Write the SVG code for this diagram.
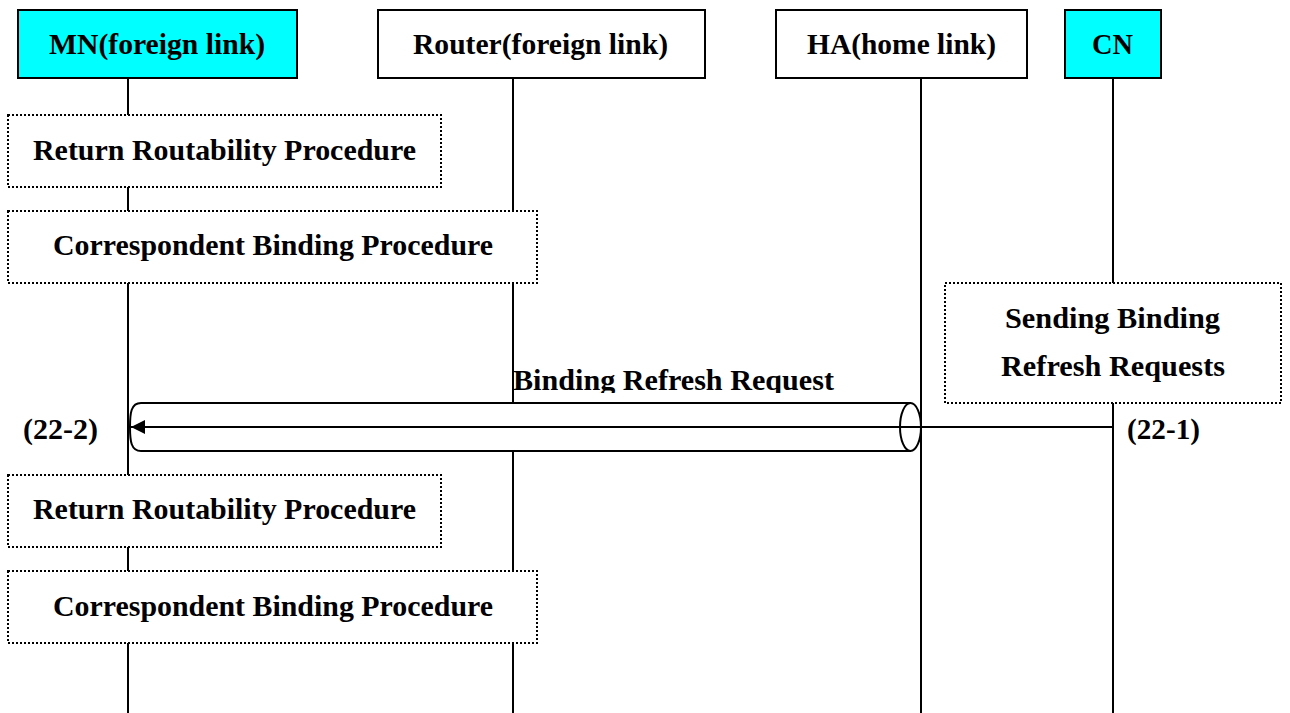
<svg xmlns="http://www.w3.org/2000/svg" width="1290" height="713" viewBox="0 0 1290 713">
  <style>
    .hdr { stroke: #000; stroke-width: 2; }
    .cyan { fill: #00FFFF; }
    .white { fill: #FFFFFF; }
    .proc { fill: #FFFFFF; stroke: #000; stroke-width: 2; stroke-dasharray: 2 2; }
    .life { stroke: #000; stroke-width: 2; fill: none; }
    .txt { font-family: "Liberation Serif", "Times New Roman", serif; font-weight: bold; font-size: 29px; fill: #000; }
    .pipe { fill: #FFFFFF; stroke: #000; stroke-width: 2; }
    .msg { stroke: #000; stroke-width: 2; fill: none; }
  </style>
  <defs>
    <marker id="arrow" markerUnits="userSpaceOnUse" markerWidth="15" markerHeight="14" refX="14" refY="7" orient="auto">
      <path d="M0,0 L14,7 L0,14 Z" fill="#000"/>
    </marker>
    <clipPath id="brrClip">
      <rect x="500" y="350" width="360" height="43"/>
    </clipPath>
  </defs>
  <rect x="0" y="0" width="1290" height="713" fill="#FFFFFF"/>

  <g id="lifelines">
    <line class="life" x1="128" y1="78" x2="128" y2="713"/>
    <line class="life" x1="513" y1="78" x2="513" y2="713"/>
    <line class="life" x1="921" y1="78" x2="921" y2="713"/>
    <line class="life" x1="1113" y1="78" x2="1113" y2="713"/>
  </g>

  <g id="node-mn">
    <rect class="hdr cyan" x="18" y="10" width="279" height="68"/>
    <text class="txt" x="49" y="54" textLength="216" lengthAdjust="spacingAndGlyphs">MN(foreign link)</text>
  </g>
  <g id="node-router">
    <rect class="hdr white" x="378" y="10" width="327" height="68"/>
    <text class="txt" x="413" y="54" textLength="255" lengthAdjust="spacingAndGlyphs">Router(foreign link)</text>
  </g>
  <g id="node-ha">
    <rect class="hdr white" x="776" y="10" width="251" height="68"/>
    <text class="txt" x="807" y="54" textLength="189" lengthAdjust="spacingAndGlyphs">HA(home link)</text>
  </g>
  <g id="node-cn">
    <rect class="hdr cyan" x="1065" y="10" width="96" height="68"/>
    <text class="txt" x="1092" y="54" textLength="41" lengthAdjust="spacingAndGlyphs">CN</text>
  </g>

  <g id="proc-rr1">
    <rect class="proc" x="8" y="115" width="433" height="72"/>
    <text class="txt" x="33" y="160" textLength="383" lengthAdjust="spacingAndGlyphs">Return Routability Procedure</text>
  </g>
  <g id="proc-cb1">
    <rect class="proc" x="8" y="211" width="529" height="72"/>
    <text class="txt" x="53" y="255" textLength="440" lengthAdjust="spacingAndGlyphs">Correspondent Binding Procedure</text>
  </g>
  <g id="proc-send">
    <rect class="proc" x="945" y="283" width="336" height="120"/>
    <text class="txt" x="1005" y="328" textLength="215" lengthAdjust="spacingAndGlyphs">Sending Binding</text>
    <text class="txt" x="1001" y="376" textLength="224" lengthAdjust="spacingAndGlyphs">Refresh Requests</text>
  </g>
  <g id="proc-rr2">
    <rect class="proc" x="8" y="475" width="433" height="72"/>
    <text class="txt" x="33" y="519" textLength="383" lengthAdjust="spacingAndGlyphs">Return Routability Procedure</text>
  </g>
  <g id="proc-cb2">
    <rect class="proc" x="8" y="571" width="529" height="72"/>
    <text class="txt" x="53" y="616" textLength="440" lengthAdjust="spacingAndGlyphs">Correspondent Binding Procedure</text>
  </g>

  <g id="connectors">
    <path class="pipe" d="M141,403 H910 V451 H141 C131,451 130,441 130,427 C130,413 131,403 141,403 Z"/>
    <ellipse class="pipe" cx="910.5" cy="427" rx="10.5" ry="24"/>
    <line class="msg" x1="1113" y1="427" x2="131" y2="427" marker-end="url(#arrow)"/>
    <text class="txt" x="513" y="390" textLength="321" lengthAdjust="spacingAndGlyphs" clip-path="url(#brrClip)">Binding Refresh Request</text>
    <text class="txt" x="23" y="439" textLength="75" lengthAdjust="spacingAndGlyphs">(22-2)</text>
    <text class="txt" x="1127" y="439" textLength="73" lengthAdjust="spacingAndGlyphs">(22-1)</text>
  </g>
</svg>
